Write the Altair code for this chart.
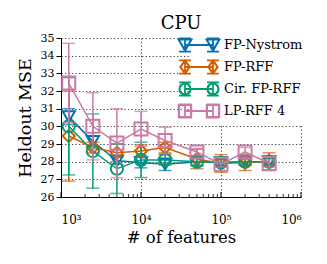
import altair as alt
import pandas as pd

series = ["FP-Nystrom", "FP-RFF", "Cir. FP-RFF", "LP-RFF 4"]
colors = ["#0072B2", "#D55E00", "#009E73", "#CC79A7"]
shapes = ["triangle-down", "diamond", "circle", "square"]
features = [1250, 2500, 5000, 10000, 20000, 50000, 100000, 200000, 400000]

nystrom_mse = [30.55, 29.15, 28.05, 27.95, 27.85, 28.0, 27.95, 28.0, 28.0]
nystrom_err = [0.45, 0.3, 0.2, 0.3, 0.35, 0.2, 0.2, 0.2, 0.2]
fprff_mse = [29.45, 28.8, 28.5, 28.6, 28.8, 28.15, 27.9, 27.95, 28.0]
fprff_err = [2.55, 0.3, 0.5, 0.35, 0.3, 0.55, 0.5, 0.45, 0.5]
cir_mse = [30.0, 28.6, 27.6, 28.1, 28.1, 28.0, 27.95, 28.0, 28.0]
cir_err = [2.75, 2.1, 1.4, 1.0, 0.3, 0.25, 0.2, 0.2, 0.2]
lp_mse = [32.45, 30.0, 29.05, 29.85, 29.2, 28.55, 27.85, 28.55, 27.9]
lp_err = [2.25, 1.9, 1.95, 1.0, 0.75, 0.2, 0.15, 0.25, 0.2]

x_ticks = [1000, 10000, 100000, 1000000]
x_tick_labels = ["10³", "10⁴", "10⁵", "10⁶"]
minor_ticks = [m * 10 ** e for e in (3, 4, 5) for m in range(2, 10)]
y_ticks = list(range(26, 36))

means = [nystrom_mse, fprff_mse, cir_mse, lp_mse]
errs = [nystrom_err, fprff_err, cir_err, lp_err]

rows = []
for s, m, e in zip(series, means, errs):
    for f, mv, ev in zip(features, m, e):
        rows.append({"series": s, "features": f, "mse": mv, "lo": mv - ev, "hi": mv + ev})
df = pd.DataFrame(rows)

W, H = 240, 159
FONT = "DejaVu Serif"

label_expr = " : ".join(
    f"datum.value == {v} ? '{l}'" for v, l in zip(x_ticks[:-1], x_tick_labels[:-1])
) + f" : '{x_tick_labels[-1]}'"

xs = alt.Scale(type="log", domain=[1000, 1000000], nice=False)
ys = alt.Scale(domain=[26, 35], nice=False, zero=False)
xaxis = alt.Axis(title="# of features", values=x_ticks, labelExpr=label_expr, ticks=False,
                 labelPadding=17, titlePadding=4, titleFontSize=16.5, labelFontSize=12)
yaxis = alt.Axis(title="Heldout MSE", values=y_ticks, tickSize=5, labelPadding=2,
                 titlePadding=6, titleFontSize=17.5, labelFontSize=11)

color_scale = alt.Scale(domain=series, range=colors)
leg = alt.Legend(title=None, symbolFillColor="white", symbolStrokeWidth=1.8)


# legend glyph: two hollow markers (drawn as thin rings so they stay hollow) joined by a line
def ring(pts, c, k=0.93):
    cx, cy = c
    outer = "M" + "L".join(f"{x:.3f},{y:.3f}" for x, y in pts) + "Z"
    inner_pts = [(cx + (x - cx) * k, cy + (y - cy) * k) for x, y in reversed(pts)]
    inner = "M" + "L".join(f"{x:.3f},{y:.3f}" for x, y in inner_pts) + "Z"
    return outer + inner


def glyph(kind):
    p = ["M-2.33,0L2.33,0"]
    for cx in (-2.33, 2.33):
        if kind == "triangle-down":
            p.append(ring([(cx - 1.1, -0.95), (cx + 1.1, -0.95), (cx, 1.0)], (cx, -0.3)))
        elif kind == "diamond":
            p.append(ring([(cx, -1.1), (cx + 0.8, 0), (cx, 1.1), (cx - 0.8, 0)], (cx, 0)))
        elif kind == "circle":
            R, r = 0.95, 0.95 * 0.93
            p.append(f"M{cx-R:.3f},0A{R},{R} 0 1,1 {cx+R:.3f},0A{R},{R} 0 1,1 {cx-R:.3f},0Z"
                     f"M{cx-r:.3f},0A{r:.3f},{r:.3f} 0 1,0 {cx+r:.3f},0A{r:.3f},{r:.3f} 0 1,0 {cx-r:.3f},0Z")
        else:
            p.append(ring([(cx - 1.05, -1.05), (cx + 1.05, -1.05), (cx + 1.05, 1.05), (cx - 1.05, 1.05)],
                          (cx, 0)))
        p.append(f"M{cx:.3f},-1.1L{cx:.3f},1.1M{cx-1:.3f},-1.1L{cx+1:.3f},-1.1"
                 f"M{cx-1:.3f},1.1L{cx+1:.3f},1.1")
    return "".join(p)


glyphs = [glyph(k) for k in shapes]

base = alt.Chart(df)
X = alt.X("features:Q", scale=xs, axis=xaxis)
C = alt.Color("series:N", scale=color_scale, legend=None)

legend_layer = base.transform_filter("false").mark_point(filled=False, strokeWidth=1.8, opacity=1).encode(
    x=X, y=alt.Y("mse:Q", scale=ys, axis=yaxis),
    stroke=alt.Stroke("series:N", scale=color_scale, legend=leg),
    shape=alt.Shape("series:N", scale=alt.Scale(domain=series, range=glyphs), legend=leg))

layers = []
for s, shp in zip(series, shapes):
    sub = base.transform_filter(alt.datum.series == s)
    layers.append(sub.mark_rule(strokeWidth=1.5).encode(
        x=X, y=alt.Y("lo:Q", scale=ys, axis=yaxis), y2="hi:Q", color=C))
    for fld in ("lo", "hi"):
        layers.append(sub.mark_tick(orient="horizontal", size=13, thickness=1.5).encode(
            x=X, y=alt.Y(f"{fld}:Q", scale=ys, axis=yaxis), color=C))
    layers.append(sub.mark_line(strokeWidth=1.5).encode(
        x=X, y=alt.Y("mse:Q", scale=ys, axis=yaxis), color=C))
    layers.append(sub.mark_point(filled=False, shape=shp, strokeWidth=2,
                                 size=170 if shp == "square" else 150, opacity=1).encode(
        x=X, y=alt.Y("mse:Q", scale=ys, axis=yaxis), color=C))

minor = alt.Chart(pd.DataFrame({"f": minor_ticks})).mark_rule(color="black", strokeWidth=0.8).encode(
    x=alt.X("f:Q", scale=xs, axis=xaxis), y=alt.value(H), y2=alt.value(H - 3))
major = alt.Chart(pd.DataFrame({"f": x_ticks})).mark_rule(color="black", strokeWidth=1).encode(
    x=alt.X("f:Q", scale=xs, axis=xaxis), y=alt.value(H), y2=alt.value(H - 5))

chart = alt.layer(legend_layer, minor, major, *layers).properties(
    width=W, height=H,
    title=alt.TitleParams("CPU", font=FONT, fontSize=18, fontWeight="normal", color="black",
                          offset=-1, frame="group"),
    autosize=alt.AutoSizeParams(type="none"),
    padding={"left": 53, "top": 30, "right": 18, "bottom": 59},
).configure_view(stroke=None).configure_axis(
    labelFont=FONT, titleFont=FONT, labelColor="black", titleColor="black",
    titleFontWeight="normal", domainColor="black", domainWidth=1, tickColor="black",
    gridColor="#222", gridDash=[1.3, 2.2], gridWidth=0.9, gridOpacity=0.9,
).configure_legend(
    orient="none", legendX=129, legendY=-2, labelFont=FONT, labelFontSize=13,
    labelColor="black", symbolSize=144, symbolStrokeWidth=1.8, labelOffset=18,
    rowPadding=0, fillColor="white", padding=2, symbolFillColor="white",
)

chart.save("out.html", embed_options={"renderer": "svg", "actions": False})
